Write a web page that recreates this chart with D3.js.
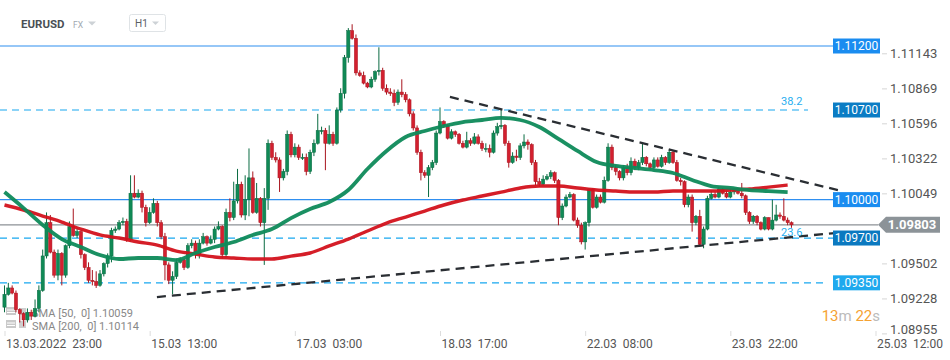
<!DOCTYPE html>
<html><head><meta charset="utf-8">
<script src="https://cdn.jsdelivr.net/npm/d3@7"></script>
<style>html,body{margin:0;padding:0;background:#fff;} svg{display:block;font-family:Roboto,"Noto Sans",sans-serif;}</style>
</head><body><svg id="c" width="950" height="360"></svg>
<script>
// ---------- DATA ----------
const firstOpen = 1.0916;
const closes = [
1.0926,1.0931,1.0927,1.0914,1.0911,1.0906,1.0912,1.0909,1.0915,1.0929,
1.0956,1.0982,1.0959,1.0941,1.0958,1.0941,1.0964,1.0979,1.0972,1.0975,
1.0957,1.0947,1.0937,1.0936,1.0933,1.0942,1.0950,1.0956,1.0976,1.0977,
1.0982,1.0983,1.0969,1.1005,1.1002,1.1005,1.0994,1.0982,1.0990,1.0997,
1.0982,1.0971,1.0949,1.0937,1.0940,1.0951,1.0953,1.0947,1.0964,1.0966,
1.0957,1.0966,1.0971,1.0966,1.0969,1.0977,1.0979,1.0957,1.0990,1.0986,
1.0999,1.1012,1.0988,1.1000,1.1017,1.0990,1.1001,1.0982,1.1001,1.1044,
1.1033,1.1031,1.1017,1.1022,1.1051,1.1035,1.1041,1.1033,1.1033,1.1022,
1.1037,1.1044,1.1054,1.1054,1.1044,1.1051,1.1044,1.1070,1.1083,1.1111,
1.1132,1.1126,1.1099,1.1097,1.1091,1.1088,1.1094,1.1100,1.1101,1.1087,
1.1084,1.1083,1.1076,1.1084,1.1082,1.1078,1.1067,1.1056,1.1037,1.1021,
1.1019,1.1025,1.1029,1.1052,1.1061,1.1058,1.1048,1.1053,1.1051,1.1044,
1.1041,1.1046,1.1044,1.1049,1.1044,1.1040,1.1040,1.1037,1.1052,1.1057,
1.1058,1.1044,1.1029,1.1034,1.1033,1.1042,1.1045,1.1043,1.1029,1.1014,
1.1012,1.1016,1.1018,1.1021,1.1015,1.0986,1.0995,1.1002,1.1004,1.0984,
1.0980,1.0967,1.0982,1.1008,1.0994,1.1002,1.0998,1.1015,1.1041,1.1025,
1.1022,1.1017,1.1025,1.1021,1.1030,1.1025,1.1029,1.1033,1.1028,1.1025,
1.1031,1.1026,1.1033,1.1029,1.1037,1.1029,1.1015,1.1014,1.0996,1.1002,
1.0982,1.0987,1.0965,1.0977,1.1001,1.1004,1.1002,1.1008,1.1005,1.1002,
1.1006,1.1008,1.1005,1.1003,1.0990,1.0983,1.0987,1.0982,1.0977,1.0986,
1.0977,1.0984,1.0988,1.0987,1.0984,1.0982,1.09803
];
const highs = [
1.0933,1.0935,1.0933,1.0929,1.0915,1.0912,1.0915,1.0914,1.0922,1.0933,
1.0961,1.0990,1.0988,1.0961,1.0961,1.0959,1.0965,1.0983,1.0993,1.0978,
1.0976,1.0958,1.0951,1.0945,1.0944,1.0945,1.0951,1.0958,1.0978,1.0979,
1.0984,1.0986,1.0985,1.1019,1.1019,1.1008,1.1007,1.0996,1.0994,1.1001,
1.0999,1.0984,1.0974,1.0951,1.0944,1.0954,1.0955,1.0954,1.0966,1.0969,
1.0968,1.0969,1.0974,1.0972,1.0972,1.0979,1.0983,1.0980,1.0993,1.1001,
1.1014,1.1024,1.1014,1.1019,1.1040,1.1022,1.1013,1.1002,1.1009,1.1047,
1.1046,1.1037,1.1033,1.1024,1.1054,1.1053,1.1044,1.1043,1.1036,1.1036,
1.1039,1.1047,1.1067,1.1057,1.1056,1.1058,1.1053,1.1072,1.1087,1.1113,
1.1134,1.1137,1.1129,1.1101,1.1100,1.1092,1.1096,1.1101,1.1119,1.1103,
1.1090,1.1087,1.1086,1.1086,1.1094,1.1084,1.1079,1.1069,1.1058,1.1039,
1.1023,1.1027,1.1031,1.1054,1.1072,1.1062,1.1059,1.1055,1.1054,1.1052,
1.1046,1.1053,1.1048,1.1052,1.1051,1.1046,1.1044,1.1043,1.1054,1.1060,
1.1070,1.1059,1.1046,1.1037,1.1039,1.1044,1.1051,1.1047,1.1044,1.1031,
1.1017,1.1019,1.1020,1.1023,1.1022,1.1016,1.0997,1.1004,1.1006,1.1005,
1.0986,1.0982,1.0983,1.1009,1.1009,1.1004,1.1004,1.1018,1.1044,1.1043,
1.1027,1.1023,1.1027,1.1028,1.1033,1.1032,1.1031,1.1044,1.1034,1.1029,
1.1033,1.1033,1.1035,1.1034,1.1039,1.1038,1.1031,1.1017,1.1015,1.1004,
1.1004,1.0988,1.0992,1.0979,1.1003,1.1007,1.1006,1.1010,1.1009,1.1007,
1.1008,1.1009,1.1009,1.1013,1.1004,1.0991,1.0988,1.0988,1.0983,1.0987,
1.0986,1.1000,1.0996,1.0990,1.1001,1.0986,1.0983
];
const lows = [
1.0912,1.0925,1.0926,1.0912,1.0904,1.0901,1.0904,1.0906,1.0908,1.0912,
1.0928,1.0954,1.0958,1.0939,1.0937,1.0933,1.0939,1.0962,1.0971,1.0970,
1.0954,1.0945,1.0935,1.0933,1.0931,1.0932,1.0940,1.0947,1.0951,1.0974,
1.0976,1.0980,1.0967,1.0967,1.1001,1.1001,1.0990,1.0979,1.0981,1.0989,
1.0979,1.0969,1.0937,1.0934,1.0926,1.0938,1.0950,1.0945,1.0946,1.0962,
1.0954,1.0954,1.0965,1.0964,1.0965,1.0966,1.0976,1.0954,1.0955,1.0983,
1.0984,1.0997,1.0986,1.0984,1.0987,1.0989,1.0989,1.0979,1.0949,1.0992,
1.1031,1.1029,1.1006,1.1015,1.1019,1.1033,1.1033,1.1031,1.1031,1.1019,
1.1020,1.1034,1.1043,1.1051,1.1023,1.1043,1.1042,1.1043,1.1068,1.1079,
1.1107,1.1125,1.1097,1.1096,1.1090,1.1087,1.1087,1.1092,1.1097,1.1085,
1.1082,1.1081,1.1073,1.1074,1.1080,1.1076,1.1065,1.1054,1.1035,1.1015,
1.1017,1.1002,1.1023,1.1027,1.1051,1.1056,1.1047,1.1047,1.1049,1.1043,
1.1040,1.1040,1.1042,1.1043,1.1043,1.1038,1.1037,1.1033,1.1036,1.1050,
1.1055,1.1042,1.1025,1.1028,1.1030,1.1031,1.1040,1.1039,1.1027,1.1011,
1.1010,1.1011,1.1015,1.1016,1.1013,1.0980,1.0984,1.0994,1.1001,1.0983,
1.0978,1.0965,1.0961,1.0979,1.0993,1.0993,1.0997,1.0997,1.1014,1.1023,
1.1019,1.1015,1.1015,1.1019,1.1019,1.1023,1.1023,1.1027,1.1026,1.1023,
1.1023,1.1025,1.1025,1.1027,1.1028,1.1028,1.1014,1.1011,1.0994,1.0994,
1.0975,1.0980,1.0963,1.0962,1.0976,1.1000,1.1001,1.1001,1.1004,1.1001,
1.1001,1.1004,1.1004,1.1001,1.0988,1.0981,1.0981,1.0980,1.0976,1.0976,
1.0976,1.0976,1.0983,1.0985,1.0983,1.0980,1.0978
];
// moving averages, read every 5th candle
const smaIdx = [0,5,10,15,20,25,30,35,40,45,50,55,60,65,70,75,80,85,90,95,100,105,110,115,120,125,130,135,140,145,150,155,160,165,170,175,180,185,190,195,200,205];
const sma50 = [1.10059,1.09934,1.09802,1.09692,1.09630,1.09567,1.09536,1.09544,1.09544,1.09528,1.09583,1.09630,1.09669,1.09724,1.09770,1.09856,1.09927,1.09981,1.10075,1.10239,1.10380,1.10489,1.10536,1.10575,1.10606,1.10622,1.10638,1.10622,1.10567,1.10474,1.10380,1.10294,1.10263,1.10247,1.10231,1.10208,1.10153,1.10106,1.10091,1.10075,1.10067,1.10059];
const sma200 = [1.09958,1.09919,1.09872,1.09825,1.09770,1.09724,1.09700,1.09669,1.09645,1.09598,1.09575,1.09552,1.09544,1.09536,1.09536,1.09559,1.09583,1.09638,1.09692,1.09755,1.09817,1.09864,1.09911,1.09958,1.09997,1.10028,1.10059,1.10091,1.10106,1.10106,1.10091,1.10075,1.10067,1.10059,1.10059,1.10067,1.10067,1.10067,1.10075,1.10083,1.10098,1.10114];
// trend lines [index, price]
const upperTrend = [[116.6,1.10802],[219.2,1.10067]];
const lowerTrend = [[39.9,1.09239],[217.4,1.09739]];
// horizontal levels
const levelValues = [1.112, 1.107, 1.100, 1.097, 1.0935];
const levelLabels = ["1.11200","1.10700","1.10000","1.09700","1.09350"];
const fibLabels = [null, "38.2", null, "23.6", null];
const yTicks = [1.11143,1.10869,1.10596,1.10322,1.10049,1.09502,1.09228,1.08955];
const xTickIdx = [0,38,76,114,152,190,228];
const xTickLabels = ["13.03.2022  23:00","15.03  13:00","17.03  03:00","18.03  17:00","22.03  08:00","23.03  22:00","25.03  12:00"];
const lastPrice = 1.09803;
const legendText = ["SMA [50,  0] 1.10059","SMA [200,  0] 1.10114"];

// ---------- DRAW ----------
const svg = d3.select('#c');
const x = d3.scaleLinear().domain([0,228]).range([4.5,875.5]);
const y = d3.scaleLinear().domain([1.08955,1.11143]).range([333.4,53.3]);

// header
svg.append('text').attr('x',21).attr('y',28).attr('font-size',11.5).attr('font-weight',700).attr('fill','#4a4f55').text('EURUSD');
svg.append('text').attr('x',73).attr('y',27.5).attr('font-size',8.5).attr('fill','#a0a8b0').text('FX');
svg.append('path').attr('d','M88,21.5 L96,21.5 L92,25.5 Z').attr('fill','#cdd2d6');
svg.append('rect').attr('x',129.5).attr('y',14.5).attr('width',36).attr('height',17).attr('rx',2).attr('fill','#fff').attr('stroke','#dfe3e6');
svg.append('text').attr('x',135).attr('y',27).attr('font-size',10).attr('fill','#5a5f65').text('H1');
svg.append('path').attr('d','M152,21.5 L159,21.5 L155.5,25 Z').attr('fill','#cdd2d6');

// legend
const lg = svg.append('g');
[0,1].forEach(k=>{
  const yy = 307 + k*13;
  lg.append('rect').attr('x',6).attr('y',yy).attr('width',10).attr('height',8).attr('fill','#c9c9c9');
  lg.append('line').attr('x1',7).attr('x2',15).attr('y1',yy+3).attr('y2',yy+3).attr('stroke','#fff').attr('stroke-width',1);
  lg.append('line').attr('x1',7).attr('x2',15).attr('y1',yy+5.5).attr('y2',yy+5.5).attr('stroke','#fff').attr('stroke-width',1);
  lg.append('rect').attr('x',19).attr('y',yy+1).attr('width',7).attr('height',7).attr('fill','#cfcfcf');
  lg.append('text').attr('x',32).attr('y',yy+10).attr('font-size',11).attr('fill','#888').style('white-space','pre').text(legendText[k]);
});

// levels
const lvColors = ['#2f8ff0','#18a8f0','#2f8ff0','#18a8f0','#18a8f0'];
const lvDash = [null,'7,5',null,'7,5','7,5'];
const lvEnd = [833,808,833,833,828];
const boxColors = ['#1a8cf0','#0b7cc4','#1a8cf0','#0b79c0','#1fa9ee'];
levelValues.forEach((v,k)=>{
  svg.append('line').attr('x1',0).attr('x2',lvEnd[k]).attr('y1',y(v)).attr('y2',y(v))
    .attr('stroke',lvColors[k]).attr('stroke-width',1.2).attr('stroke-dasharray',lvDash[k]);
});
// current price line
svg.append('line').attr('x1',0).attr('x2',878).attr('y1',y(lastPrice)).attr('y2',y(lastPrice)).attr('stroke','#8c9196').attr('stroke-width',1.2);

// candles
const cg = svg.append('g');
closes.forEach((c,i)=>{
  const o = i===0 ? firstOpen : closes[i-1];
  const up = c >= o;
  const col = up ? '#108a56' : '#d3202f';
  const dark = up ? '#0a6b42' : '#a8151f';
  cg.append('line').attr('x1',x(i)).attr('x2',x(i)).attr('y1',y(highs[i])).attr('y2',y(lows[i])).attr('stroke',dark).attr('stroke-width',1);
  const top = y(Math.max(o,c)), h = Math.max(1, Math.abs(y(o)-y(c)));
  cg.append('rect').attr('x',x(i)-1.6).attr('y',top).attr('width',3.2).attr('height',h).attr('fill',col).attr('stroke',dark).attr('stroke-width',0.5);
});

// SMA lines
const smaLine = arr => d3.line().x((d,k)=>x(smaIdx[k])).y(d=>y(d)).curve(d3.curveMonotoneX)(arr);
svg.append('path').attr('d',smaLine(sma200)).attr('fill','none').attr('stroke','#d3121c').attr('stroke-width',3.4).attr('stroke-linejoin','round').attr('opacity',0.95);
svg.append('path').attr('d',smaLine(sma50)).attr('fill','none').attr('stroke','#0e8a5a').attr('stroke-width',3.8).attr('stroke-linejoin','round').attr('opacity',0.95);

// trend lines
[upperTrend, lowerTrend].forEach(t=>{
  svg.append('line').attr('x1',x(t[0][0])).attr('y1',y(t[0][1])).attr('x2',x(t[1][0])).attr('y2',y(t[1][1]))
    .attr('stroke','#2a2e33').attr('stroke-width',2.3).attr('stroke-dasharray','9,6');
});

// fib labels
const fibDy = [0,-5,0,-2,0];
levelValues.forEach((v,k)=>{
  if(!fibLabels[k]) return;
  svg.append('text').attr('x',781).attr('y',y(v)+fibDy[k]).attr('font-size',11).attr('fill','#27aef0').text(fibLabels[k]);
});

// level label boxes
levelValues.forEach((v,k)=>{
  svg.append('rect').attr('x',833).attr('y',y(v)-7.5).attr('width',47).attr('height',15).attr('fill',boxColors[k]);
  svg.append('text').attr('x',856.5).attr('y',y(v)+4.3).attr('text-anchor','middle').attr('font-size',12).attr('fill','#fff').text(levelLabels[k]);
});

// y axis
const ya = svg.append('g').attr('transform','translate(882,0)')
  .call(d3.axisRight(y).tickValues(yTicks).tickSize(5).tickPadding(3).tickFormat(d3.format('.5f')));
ya.select('.domain').remove();
ya.selectAll('line').attr('stroke','#d5d5d5');
ya.selectAll('text').attr('font-size',13).attr('fill','#555').attr('font-family','Roboto')
  .attr('transform', d => d===1.08955 ? 'translate(0,-4)' : null);

// x axis
const xa = svg.append('g').attr('transform','translate(0,331)')
  .call(d3.axisBottom(x).tickValues(xTickIdx).tickSize(5).tickPadding(3).tickFormat((d,k)=>xTickLabels[k]));
xa.select('.domain').remove();
xa.selectAll('line').attr('stroke','#ddd');
xa.selectAll('text').attr('font-size',12).attr('fill','#555').attr('font-family','Roboto')
  .attr('text-anchor','start').attr('dx',1).style('white-space','pre');

// current price tag
const py = y(lastPrice);
svg.append('path').attr('d',`M878,${py} L886,${py-8} L940,${py-8} L940,${py+8} L886,${py+8} Z`).attr('fill','#8c9398');
svg.append('text').attr('x',912).attr('y',py+4.5).attr('text-anchor','middle').attr('font-size',13).attr('font-weight',700).attr('fill','#fff').text(d3.format('.5f')(lastPrice));

// timer
const tt = svg.append('text').attr('x',880).attr('y',321).attr('text-anchor','end').attr('font-size',15);
tt.append('tspan').attr('fill','#f5a233').text('13');
tt.append('tspan').attr('fill','#bbb').text('m ');
tt.append('tspan').attr('fill','#f5a233').text('22');
tt.append('tspan').attr('fill','#bbb').text('s');
</script></body></html>
